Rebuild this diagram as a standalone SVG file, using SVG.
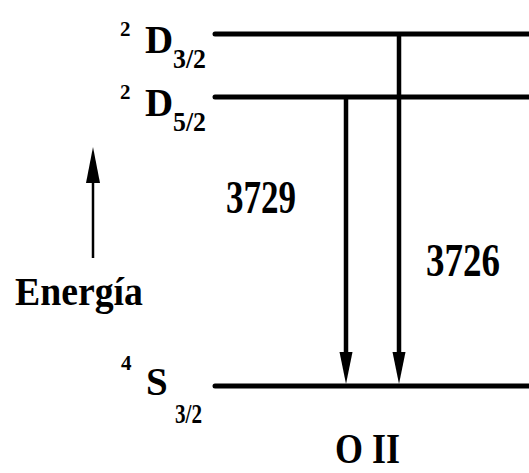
<svg xmlns="http://www.w3.org/2000/svg" width="529" height="473" viewBox="0 0 529 473">
<defs>
<style>
.lvl{stroke:#000;stroke-width:5;stroke-linecap:round}
.tr{stroke:#000;stroke-width:4.5}
.lbl{font-family:'Liberation Serif',serif;font-weight:bold}
</style>
</defs>
<rect width="529" height="473" fill="#fff"/>
<g id="level-D32">
<line class="lvl" x1="215" y1="34" x2="531" y2="34"/>
<text class="lbl" x="120" y="36" font-size="21">2</text>
<text class="lbl" x="145" y="53" font-size="39">D</text>
<text class="lbl" x="173" y="68" font-size="28" textLength="33" lengthAdjust="spacingAndGlyphs">3/2</text>
</g>
<g id="level-D52">
<line class="lvl" x1="215" y1="97" x2="531" y2="97"/>
<text class="lbl" x="120" y="99" font-size="21">2</text>
<text class="lbl" x="145" y="116" font-size="39">D</text>
<text class="lbl" x="173" y="131" font-size="28" textLength="33" lengthAdjust="spacingAndGlyphs">5/2</text>
</g>
<g id="level-S32">
<line class="lvl" x1="215" y1="386" x2="531" y2="386"/>
<text class="lbl" x="121" y="370" font-size="21">4</text>
<text class="lbl" x="146" y="395" font-size="39">S</text>
<text class="lbl" x="175" y="423" font-size="28" textLength="27" lengthAdjust="spacingAndGlyphs">3/2</text>
</g>
<g id="connectors">
<line class="tr" x1="346" y1="97" x2="346" y2="356"/>
<polygon points="346,384 339.5,352 352.5,352"/>
<line class="tr" x1="399" y1="34" x2="399" y2="356"/>
<polygon points="399,384 392.5,352 405.5,352"/>
<line x1="93" y1="178" x2="93" y2="258" stroke="#000" stroke-width="2.5"/>
<polygon points="93,147 86,183 100,183"/>
</g>
<g id="labels">
<text class="lbl" x="226" y="213" font-size="47" textLength="70" lengthAdjust="spacingAndGlyphs">3729</text>
<text class="lbl" x="426" y="276" font-size="47" textLength="74" lengthAdjust="spacingAndGlyphs">3726</text>
<text class="lbl" x="15" y="305" font-size="41" textLength="128" lengthAdjust="spacingAndGlyphs">Energía</text>
<text class="lbl" x="335" y="463" font-size="42" textLength="65" lengthAdjust="spacingAndGlyphs">O II</text>
</g>
</svg>
